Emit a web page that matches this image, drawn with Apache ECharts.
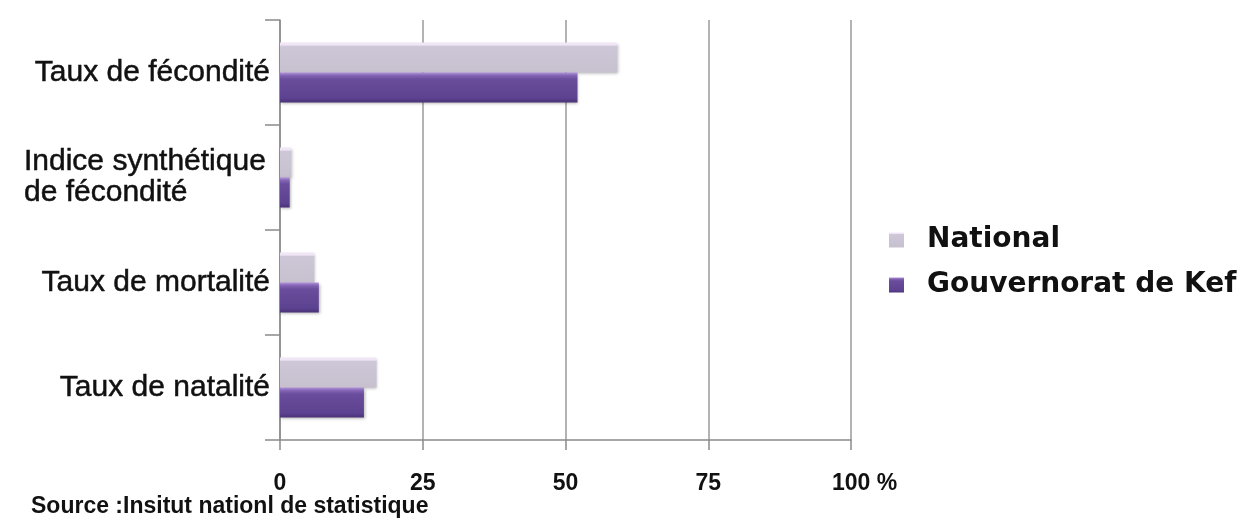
<!DOCTYPE html>
<html>
<head>
<meta charset="utf-8">
<script src="https://cdn.jsdelivr.net/npm/echarts@6/dist/echarts.min.js"></script>
<style>
  html, body { margin: 0; padding: 0; background: #ffffff; }
  #chart { width: 1249px; height: 525px; }
</style>
</head>
<body>
<div id="chart"></div>
<script>
// ---- Data ----
const categories = [
  'Taux de fécondité',
  'Indice synthétique\nde fécondité',
  'Taux de mortalité',
  'Taux de natalité'
];
const seriesNames = ['National', 'Gouvernorat de Kef'];
const nationalValues = [59.0, 1.9, 6.0, 16.9];
const kefValues = [52.1, 1.7, 6.8, 14.7];
const xTickValues = [0, 25, 50, 75, 100];
const sourceText = 'Source :Insitut nationl de statistique';

// ---- Styles ----
const nationalFill = new echarts.graphic.LinearGradient(0, 0, 0, 1, [
  { offset: 0, color: '#F2E8F7' },
  { offset: 0.09, color: '#EEE4F4' },
  { offset: 0.12, color: '#CDC7D7' },
  { offset: 1, color: '#C6C0CF' }
]);
const kefFill = new echarts.graphic.LinearGradient(0, 0, 0, 1, [
  { offset: 0, color: '#B293DA' },
  { offset: 0.1, color: '#8465B5' },
  { offset: 0.22, color: '#6A4D9C' },
  { offset: 0.85, color: '#5C4290' },
  { offset: 1, color: '#4A3278' }
]);

const labelFont = {
  fontFamily: 'Liberation Sans',
  fontSize: 30,
  color: '#111111',
  textBorderColor: '#111111',
  textBorderWidth: 0.5,
  lineHeight: 31
};

const chart = echarts.init(document.getElementById('chart'), null, { renderer: 'canvas' });

const option = {
  backgroundColor: '#ffffff',
  animation: false,
  title: {
    text: sourceText,
    left: 31,
    top: 495,
    padding: 0,
    textStyle: {
      fontFamily: 'Liberation Sans',
      fontSize: 23,
      fontWeight: 'bold',
      color: '#111111'
    }
  },
  legend: {
    orient: 'vertical',
    left: 884,
    top: 220,
    itemWidth: 15,
    itemHeight: 15,
    itemGap: 15,
    icon: 'rect',
    data: seriesNames,
    textStyle: {
      fontFamily: 'DejaVu Sans',
      fontSize: 28,
      fontWeight: 'bold',
      color: '#111111',
      lineHeight: 30,
      padding: [0, 0, 0, 18]
    }
  },
  grid: {
    left: 280,
    right: 398,
    top: 20,
    bottom: 85,
    containLabel: false
  },
  xAxis: {
    type: 'value',
    min: 0,
    max: 100,
    interval: 25,
    axisLine: { show: true, lineStyle: { color: '#8a8a8a', width: 1.5 } },
    axisTick: { show: true, length: 10, lineStyle: { color: '#8a8a8a', width: 1.5 } },
    splitLine: { show: true, lineStyle: { color: '#9a9a9a', width: 1.5 } },
    axisLabel: {
      margin: 32,
      fontFamily: 'Liberation Sans',
      fontSize: 23,
      fontWeight: 'bold',
      color: '#111111',
      formatter: function (v) {
        if (v === xTickValues[xTickValues.length - 1]) {
          return '{h|}' + v + '{p| %}';
        }
        return String(v);
      },
      rich: {
        h: { width: 27 },
        p: { fontFamily: 'Liberation Sans', fontSize: 23, fontWeight: 'bold', color: '#111111' }
      }
    }
  },
  yAxis: {
    type: 'category',
    inverse: true,
    data: categories,
    axisLine: { show: true, lineStyle: { color: '#8a8a8a', width: 1.5 } },
    axisTick: { show: true, length: 15, lineStyle: { color: '#8a8a8a', width: 1.5 } },
    splitLine: { show: false },
    axisLabel: Object.assign({
      margin: 10,
      formatter: function (v) {
        if (v.indexOf('\n') >= 0) {
          return v.split('\n').map(function (s) { return '{l|' + s + '}'; }).join('\n');
        }
        return v;
      },
      rich: {
        l: Object.assign({ width: 246, align: 'left' }, labelFont)
      }
    }, labelFont)
  },
  series: [
    {
      name: seriesNames[0],
      type: 'bar',
      data: nationalValues,
      barWidth: 30,
      barGap: '0%',
      itemStyle: {
        color: nationalFill,
        shadowColor: 'rgba(0,0,0,0.28)',
        shadowBlur: 3,
        shadowOffsetX: 1,
        shadowOffsetY: 1
      }
    },
    {
      name: seriesNames[1],
      type: 'bar',
      data: kefValues,
      barWidth: 30,
      barGap: '0%',
      itemStyle: {
        color: kefFill,
        shadowColor: 'rgba(0,0,0,0.3)',
        shadowBlur: 3,
        shadowOffsetX: 1,
        shadowOffsetY: 1
      }
    }
  ]
};

chart.setOption(option);
</script>
</body>
</html>
